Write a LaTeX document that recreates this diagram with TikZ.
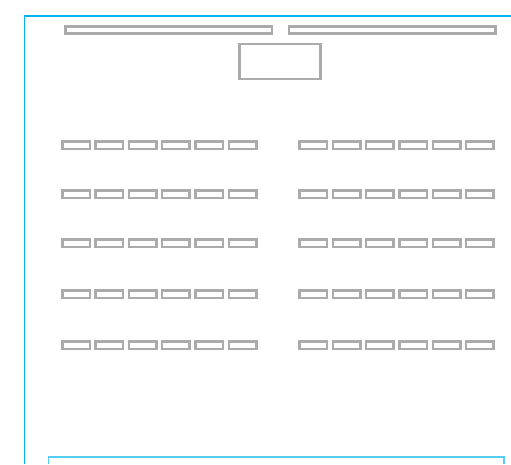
\documentclass[tikz,border=0pt]{standalone}
\usetikzlibrary{positioning}
\definecolor{frameblue}{HTML}{00B4F0}
\definecolor{paneblue}{HTML}{55CCF2}
\definecolor{slotgray}{HTML}{ABABAB}

\begin{document}
\begin{tikzpicture}[x=1pt,y=-1pt,
  bar/.style={draw=slotgray,line width=2.5pt,inner sep=0pt,minimum width=206.5pt,minimum height=7pt},
  slot/.style={draw=slotgray,line width=2.5pt,inner sep=0pt,minimum width=27.5pt,minimum height=7.5pt},
  pane/.style={draw=slotgray,line width=2.5pt,inner sep=0pt,minimum width=81pt,minimum height=35pt}]
\useasboundingbox (0,0) rectangle (511,464);
% outer frame and lower panel
\draw[frameblue,line width=1.6pt] (24.3,464) -- (24.3,15.8) -- (511,15.8);
\draw[paneblue,line width=1.6pt] (48.5,464) -- (48.5,457) -- (504,457) -- (504,464);
% header
\node[bar] (topl) at (168.8,30) {};
\node[bar] (topr) at (392.2,30) {};
\node[pane] (head) at (280,61.5) {};
% two blocks of slots
\foreach \r/\y in {1/145,2/194.3,3/243.3,4/294.3,5/345}{
  \foreach \c in {1,...,6}{
    \node[slot] (l-\r-\c) at ({76+33.3*(\c-1)},\y) {};
    \node[slot] (r-\r-\c) at ({313.3+33.3*(\c-1)},\y) {};
  }
}
\end{tikzpicture}
\end{document}
